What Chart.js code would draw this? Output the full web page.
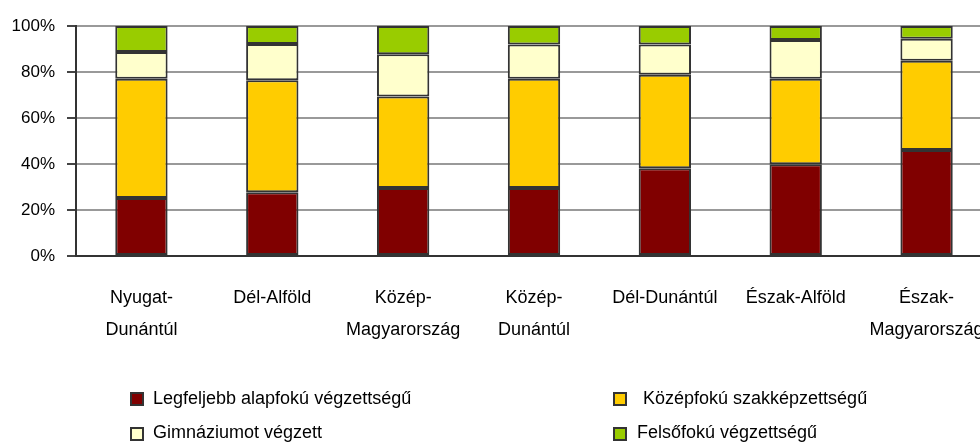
<!DOCTYPE html>
<html>
<head>
<meta charset="utf-8">
<script src="https://cdn.jsdelivr.net/npm/chart.js@4"></script>
<style>
  html, body { margin: 0; padding: 0; background: #fff; overflow: hidden; }
  #wrap { position: relative; width: 992px; height: 442px; }
  #chart { display: block; }
  .leg { position: absolute; font-family: "Liberation Sans", Arial, sans-serif; font-size: 18px; line-height: 20px; color: #000; white-space: nowrap; }
  .box { position: absolute; width: 10px; height: 10px; border: 2px solid #333; }
</style>
</head>
<body>
<div id="wrap">
  <canvas id="chart" width="992" height="442"></canvas>
  <div id="legend"></div>
</div>
<script>
// kategóriák (régiók)
const regiok = [
    ["Nyugat-", "Dunántúl"],
    "Dél-Alföld",
    ["Közép-", "Magyarország"],
    ["Közép-", "Dunántúl"],
    "Dél-Dunántúl",
    "Észak-Alföld",
    ["Észak-", "Magyarország"]
]

// sorozatok (%)
const alapfoku = [25.2, 27.7, 29.6, 29.6, 38.1, 39.9, 46.1]
const szakkepzett = [51.9, 48.7, 39.7, 47.5, 40.7, 37.2, 38.8]
const gimnazium = [11.6, 15.8, 18.4, 14.9, 13.2, 16.8, 9.6]
const felsofoku = [11.3, 7.8, 12.3, 8.0, 8.0, 6.1, 5.5]

const sorozatNevek = ["Legfeljebb alapfokú végzettségű", "Középfokú szakképzettségű", "Gimnáziumot végzett", "Felsőfokú végzettségű"]
const szinek = ["#800000", "#FFCC00", "#FFFFCC", "#99CC00"]

const yTicks = [0, 20, 40, 60, 80, 100]

const betu = "'Liberation Sans', Arial, sans-serif"

function dataset(i, adat) {
    return {
        label: sorozatNevek[i],
        data: adat,
        backgroundColor: szinek[i],
        borderColor: "#333333",
        borderWidth: 2,
        borderSkipped: false,
        barPercentage: 0.4,
        categoryPercentage: 1
    }
}

const config = {
    type: "bar",
    data: {
        labels: regiok,
        datasets: [
            dataset(0, alapfoku),
            dataset(1, szakkepzett),
            dataset(2, gimnazium),
            dataset(3, felsofoku)
        ]
    },
    options: {
        responsive: false,
        animation: false,
        layout: { padding: { top: 26, left: 0, right: 0, bottom: 0 } },
        plugins: {
            legend: { display: false },
            tooltip: { enabled: false }
        },
        scales: {
            x: {
                stacked: true,
                grid: { color: "transparent", drawTicks: false },
                border: { display: true, color: "#333333", width: 2 },
                ticks: {
                    color: "#000",
                    padding: 26,
                    maxRotation: 0,
                    autoSkip: false,
                    font: { family: betu, size: 18, lineHeight: 1.78 }
                },
                afterFit: (scale) => {
                    scale.height = 186
                    scale.paddingLeft = 0
                    scale.paddingRight = 0
                }
            },
            y: {
                stacked: true,
                min: 0,
                max: 100,
                afterBuildTicks: (scale) => { scale.ticks = yTicks.map(v => ({ value: v })) },
                grid: { color: "#999999", lineWidth: 2, tickLength: 9, tickColor: "#444" },
                border: { display: true, color: "#333333", width: 2 },
                ticks: {
                    color: "#000",
                    padding: 12,
                    font: { family: betu, size: 17 },
                    callback: (v) => v + "%"
                },
                afterFit: (scale) => { scale.width = 76 }
            }
        }
    }
}

new Chart(document.getElementById("chart"), config)

// jelmagyarázat 2x2 elrendezésben
const legPos = [
    { box: [130, 392], text: [153, 388] },
    { box: [613, 392], text: [643, 388] },
    { box: [130, 427], text: [153, 422] },
    { box: [613, 427], text: [637, 422] }
]
const legend = document.getElementById("legend")
sorozatNevek.forEach((nev, i) => {
    const b = document.createElement("div")
    b.className = "box"
    b.style.left = legPos[i].box[0] + "px"
    b.style.top = legPos[i].box[1] + "px"
    b.style.background = szinek[i]
    legend.appendChild(b)
    const t = document.createElement("div")
    t.className = "leg"
    t.style.left = legPos[i].text[0] + "px"
    t.style.top = legPos[i].text[1] + "px"
    t.textContent = nev
    legend.appendChild(t)
})
</script>
</body>
</html>
